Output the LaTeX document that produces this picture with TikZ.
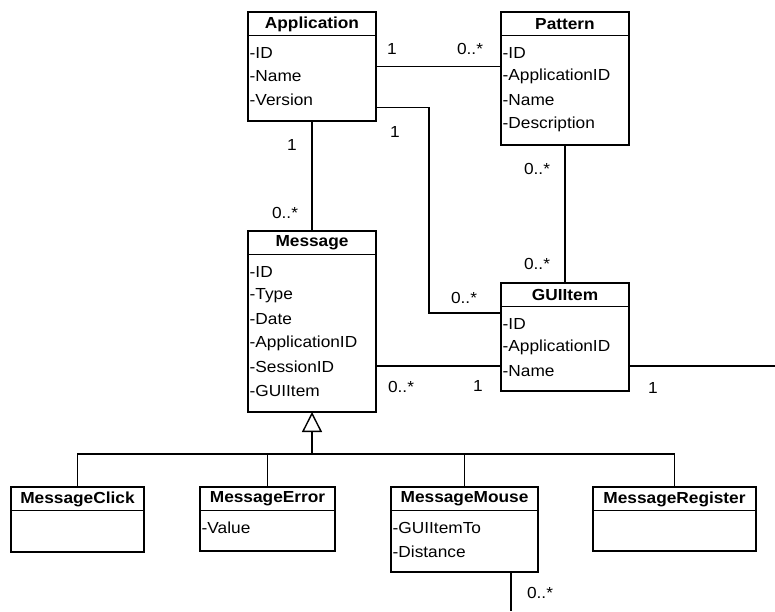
\documentclass[tikz,border=0pt]{standalone}
\usepackage{fontspec}
\setmainfont{Liberation Sans}[FakeStretch=1.08]
\usetikzlibrary{arrows.meta}
\tikzset{
  box/.style={draw, line width=1.6pt, anchor=north west, inner sep=0pt, outer sep=0pt},
  hdr/.style={font=\fontsize{16}{18}\selectfont\bfseries, inner sep=0pt},
  attr/.style={font=\fontsize{16}{18}\selectfont, anchor=west, inner sep=0pt},
  mult/.style={font=\fontsize{16}{18}\selectfont, inner sep=0pt},
  conn/.style={line width=1.3pt},
  sep/.style={line width=1.4pt},
}
\newcommand{\umlcls}[6]{%
  \node[box, minimum width=#4pt, minimum height=#5pt] (#1) at (#2,#3) {};
  \draw[sep] ([yshift=-23.5pt]#1.north west) -- ([yshift=-23.5pt]#1.north east);
  \node[hdr] (#1-t) at ([yshift=-12pt]#1.north) {#6};
}
\newcommand{\umlattrs}[2]{%
  \foreach \a [count=\i] in {#2} {
    \node[attr] (#1-a\i) at ([xshift=1.5pt, yshift={-40.5pt-(\i-1)*23.8pt}]#1.north west) {\a};
  }
}
\begin{document}
\begin{tikzpicture}[x=1pt, y=-1pt]
\useasboundingbox (0,0) rectangle (775,611);
\fill[white] (0,0) rectangle (775,611);

% classes
\umlcls{app}{248}{12}{128}{109}{Application}
\umlattrs{app}{-ID,-Name,-Version}
\umlcls{pat}{501}{12}{128}{133}{Pattern}
\umlattrs{pat}{-ID,-ApplicationID,-Name,-Description}
\umlcls{msg}{248}{231}{128}{181}{Message}
\umlattrs{msg}{-ID,-Type,-Date,-ApplicationID,-SessionID,-GUIItem}
\umlcls{gui}{501}{283}{128}{108}{GUIItem}
\umlattrs{gui}{-ID,-ApplicationID,-Name}
\umlcls{click}{11}{487}{133}{65}{MessageClick}
\umlcls{err}{200}{487}{135}{64}{MessageError}
\umlattrs{err}{-Value}
\umlcls{mouse}{391}{487}{147}{85}{MessageMouse}
\umlattrs{mouse}{-GUIItemTo,-Distance}
\umlcls{reg}{593}{487}{163}{64}{MessageRegister}

% helper coordinates
\coordinate (rightedge) at (775,0);
\coordinate (bottomedge) at (0,611);
\coordinate (bus) at (312,454);

% Application -- Pattern
\draw[conn] (app.east) -- (app.east -| pat.west);
% Application -- GUIItem
\draw[conn] ([yshift=-41pt]app.east) -- ++(53,0) |- ([yshift=24pt]gui.west);
% Application -- Message
\draw[conn] (app.south) -- (msg.north);
% Pattern -- GUIItem
\draw[conn] (pat.south) -- (gui.north);
% Message -- GUIItem
\path ([yshift=-44.5pt]msg.east) coordinate (mg);
\draw[conn] (mg) -- (mg -| gui.west);
% GUIItem -- off to the right
\path ([yshift=-29pt]gui.east) coordinate (gr);
\draw[conn] (gr) -- (gr -| rightedge);
% MessageMouse -- off to the bottom
\path ([xshift=46.5pt]mouse.south) coordinate (mm);
\draw[conn] (mm) -- (mm |- bottomedge);

% generalization
\draw[line width=1.6pt, -{Triangle[open, length=20pt, width=20pt, line width=1.4pt]}] (bus) -- (msg.south);
\draw[conn] (click.north) -- (click.north |- bus) -- (reg.north |- bus) -- (reg.north);
\draw[conn] (err.north) -- (err.north |- bus);
\draw[conn] (mouse.north) -- (mouse.north |- bus);

% multiplicities
\node[mult] (m1) at (392,49) {1};
\node[mult] (m2) at (470,49) {0..*};
\node[mult] (m3) at (395,132) {1};
\node[mult] (m4) at (464,298) {0..*};
\node[mult] (m5) at (292,145) {1};
\node[mult] (m6) at (285,213) {0..*};
\node[mult] (m7) at (537,169) {0..*};
\node[mult] (m8) at (537,264) {0..*};
\node[mult] (m9) at (401,387) {0..*};
\node[mult] (m10) at (478,386) {1};
\node[mult] (m11) at (653,388) {1};
\node[mult] (m12) at (540,593) {0..*};
\end{tikzpicture}
\end{document}
